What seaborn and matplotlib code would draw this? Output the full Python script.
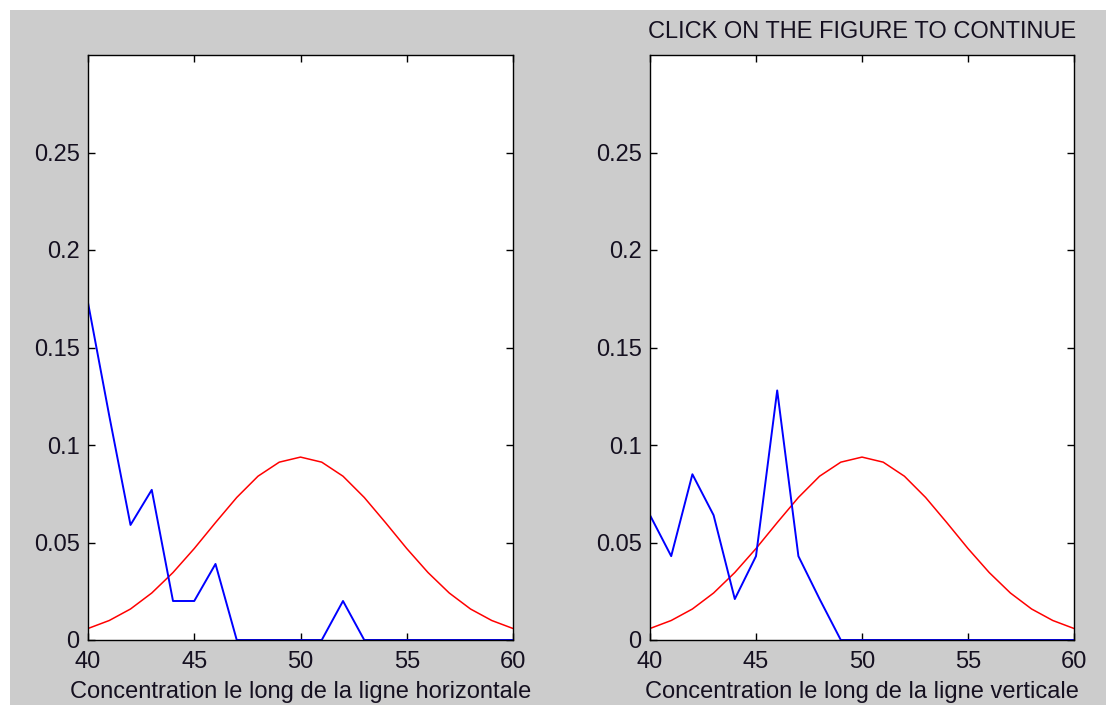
import numpy as np
import matplotlib
matplotlib.use("Agg")
import matplotlib.pyplot as plt
import seaborn as sns

sns.set_style("ticks")
plt.rcParams["font.family"] = ["Liberation Sans", "DejaVu Sans"]

# Positions along the sampled line
positions = list(range(40, 61))

# Measured concentration along the horizontal line
horizontal = [0.173, 0.115, 0.059, 0.077, 0.020, 0.020, 0.039, 0.0, 0.0, 0.0,
              0.0, 0.0, 0.020, 0.0, 0.0, 0.0, 0.0, 0.0, 0.0, 0.0, 0.0]

# Measured concentration along the vertical line
vertical = [0.064, 0.043, 0.085, 0.064, 0.021, 0.043, 0.128, 0.043, 0.021, 0.0,
            0.0, 0.0, 0.0, 0.0, 0.0, 0.0, 0.0, 0.0, 0.0, 0.0, 0.0]

# Reference profile (bell curve centred on 50)
reference = [0.0059, 0.0100, 0.0159, 0.0241, 0.0346, 0.0469, 0.0602, 0.0731,
             0.0840, 0.0912, 0.0938, 0.0912, 0.0840, 0.0731, 0.0602, 0.0469,
             0.0346, 0.0241, 0.0159, 0.0100, 0.0059]

xticks = [40, 45, 50, 55, 60]
yticks = [0, 0.05, 0.1, 0.15, 0.2, 0.25]
yticklabels = ["0", "0.05", "0.1", "0.15", "0.2", "0.25"]

xlabels = ["Concentration le long de la ligne horizontale",
           "Concentration le long de la ligne verticale"]
title = "CLICK ON THE FIGURE TO CONTINUE"

FS = 17
TXT = "#151020"

W, H = 1108, 705
fig = plt.figure(figsize=(W / 100, H / 100), dpi=100)
fig.patch.set_facecolor("white")

# grey window area
fig.patches.append(plt.Rectangle((10 / W, 0), (W - 12) / W, (H - 10) / H,
                                 transform=fig.transFigure, facecolor="#cccccc",
                                 edgecolor="none", zorder=-10))

bottom = 1 - 640 / H
top = 1 - 55 / H
boxes = [(88, 513), (650, 1074)]
series = [horizontal, vertical]

for i, ((x0, x1), meas) in enumerate(zip(boxes, series)):
    ax = fig.add_axes([x0 / W, bottom, (x1 - x0) / W, top - bottom])
    ax.set_facecolor("white")
    sns.lineplot(x=positions, y=reference, ax=ax, color="#ff0000", linewidth=1.1)
    sns.lineplot(x=positions, y=meas, ax=ax, color="#0000ff", linewidth=1.4)
    ax.set_xlim(40, 60)
    ax.set_ylim(0, 0.3)
    ax.set_xticks(xticks)
    ax.set_xticklabels([str(t) for t in xticks])
    ax.set_yticks(yticks)
    ax.set_yticklabels(yticklabels)
    ax.tick_params(direction="in", length=5, width=1, color="black",
                   labelcolor=TXT, labelsize=FS, top=True, right=True, pad=6)
    ax.tick_params(axis="x", pad=8)
    for sp in ax.spines.values():
        sp.set_visible(True)
        sp.set_color("black")
        sp.set_linewidth(1)
    ax.set_xlabel(xlabels[i], fontsize=FS, labelpad=6, color=TXT)
    ax.set_ylabel("")
    if i == 1:
        ax.set_title(title, fontsize=FS, pad=12, color=TXT)

fig.savefig("out.png", dpi=100)
